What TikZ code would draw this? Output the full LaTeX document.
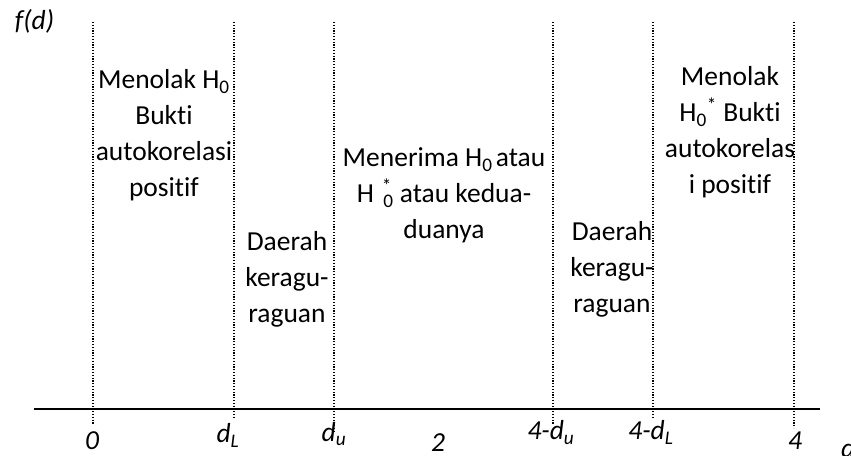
\documentclass[tikz,border=0pt]{standalone}
\usepackage{fontspec}
\setmainfont{Carlito}[Ligatures=NoCommon]
% centred lines with a fixed baseline distance; baseline of the box = first line
\newcommand{\colstack}[1]{\vtop{\baselineskip=27pt\lineskiplimit=-100pt\lineskip=0pt
  \halign{\hfil##\hfil\cr#1\crcr}}}
\begin{document}
\begin{tikzpicture}[x=0.75pt, y=-0.75pt,
  every node/.style={inner sep=0pt, outer sep=0pt, font=\fontsize{20.6pt}{27pt}\selectfont},
  guide/.style={line width=0.9pt, dash pattern=on 0.9pt off 1.2pt},
  axisline/.style={line width=1.5pt},
  region/.style={anchor=base},
  tick/.style={anchor=base, font=\fontsize{20.6pt}{27pt}\selectfont\itshape}]
\useasboundingbox (0,0) rectangle (851,456);

% vertical boundaries of the decision regions
\coordinate (t0)  at (93,22);   \coordinate (b0)  at (93,425);
\coordinate (tL)  at (234,22);  \coordinate (bL)  at (234,417);
\coordinate (tU)  at (334,22);  \coordinate (bU)  at (334,432);
\coordinate (tU4) at (553,22);  \coordinate (bU4) at (553,425);
\coordinate (tL4) at (653,22);  \coordinate (bL4) at (653,417);
\coordinate (t4)  at (794,22);  \coordinate (b4)  at (794,428);
\foreach \a/\b in {t0/b0, tL/bL, tU/bU, tU4/bU4, tL4/bL4, t4/b4}
  \draw[guide] (\a) -- (\b);

% horizontal axis
\coordinate (ax0) at (34,409);
\coordinate (ax1) at (820,409);
\draw[axisline] (ax0) -- (ax1);

% axis titles
\node[anchor=base west, font=\fontsize{20.6pt}{27pt}\selectfont\itshape] (fd) at (15,30) {f(d)};
\node[anchor=base west, font=\fontsize{20.6pt}{27pt}\selectfont\itshape] (dvar) at (841,457) {d};

% tick labels
\node[tick] (l0)  at (92,450)  {0};
\node[tick] (lL)  at (228,443) {d\textsubscript{L}};
\node[tick] (lU)  at (334,441) {d\textsubscript{u}};
\node[tick] (l2)  at (438,451) {2};
\node[tick] (lU4) at (551,440) {4-d\textsubscript{u}};
\node[tick] (lL4) at (651,440) {4-d\textsubscript{L}};
\node[tick] (l4)  at (795,450) {4};

% region descriptions
\node[region] (r1) at (164,89)
  {\colstack{Menolak H\textsubscript{0}\cr Bukti\cr autokorelasi\cr positif}};
\node[region] (r2) at (287,251)
  {\colstack{Daerah\cr keragu-\cr raguan}};
\node[region] (r3) at (444,167)
  {\colstack{Menerima H\textsubscript{0\,}atau\cr
   H\hspace{6pt}\rlap{\textsuperscript{*}}\hspace{1pt}\textsubscript{0} atau kedua-\cr duanya}};
\node[region] (r4) at (612,241)
  {\colstack{Daerah\cr keragu-\cr raguan}};
\node[region] (r5) at (730,86)
  {\colstack{Menolak\cr H\textsubscript{0}\textsuperscript{*} Bukti\cr autokorelas\cr i positif}};
\end{tikzpicture}
\end{document}
